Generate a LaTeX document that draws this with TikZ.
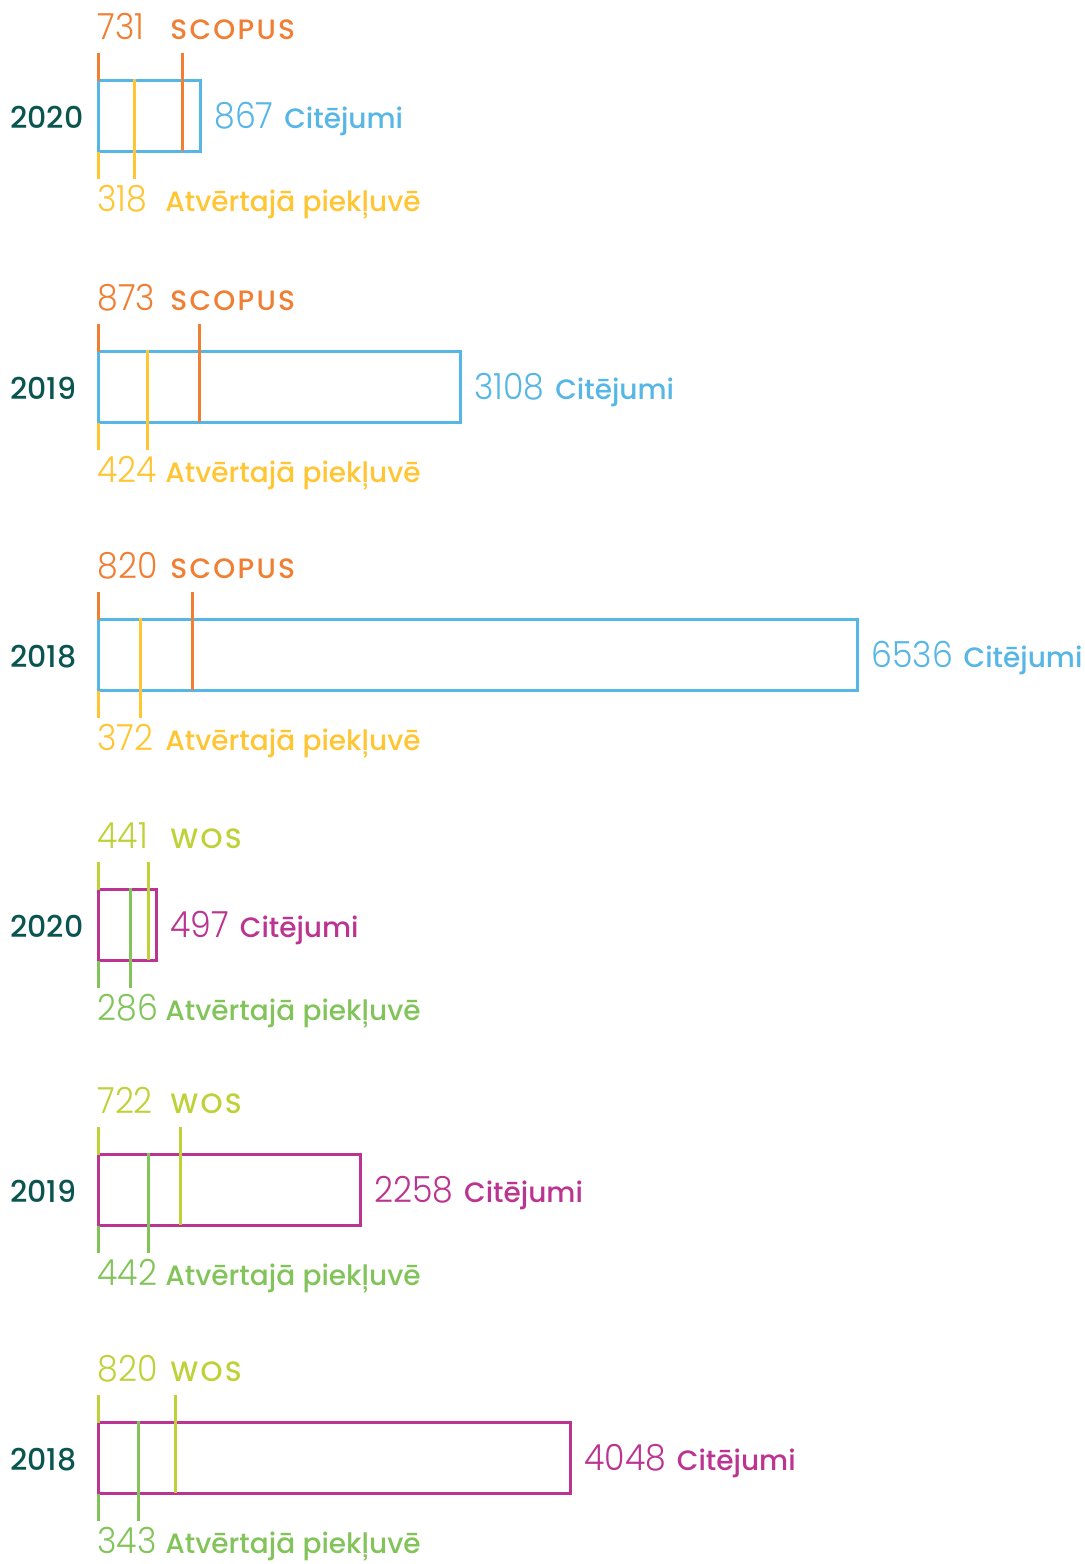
\documentclass[tikz,border=0pt]{standalone}
\usepackage{fontspec}
\setmainfont{Poppins}
\newfontfamily\numfont{Poppins Light}[FakeStretch=0.92]
\newfontfamily\lblfont{Poppins Medium}
\newfontfamily\srcfont{Poppins Medium}[LetterSpace=8]
\usetikzlibrary{positioning}

\definecolor{topS}{HTML}{F07E33}
\definecolor{boxS}{HTML}{56B6E6}
\definecolor{botS}{HTML}{FFC532}
\definecolor{topW}{HTML}{BED237}
\definecolor{boxW}{HTML}{BB3491}
\definecolor{botW}{HTML}{82C45A}
\definecolor{yeargreen}{HTML}{0B5550}

\begin{document}
\begin{tikzpicture}[
        x=0.5pt, y=-0.5pt,
        tick/.style={line width=1.5pt},
        bar/.style={line width=1.6pt},
        num/.style={inner sep=0pt, anchor=base west, font=\numfont\fontsize{18}{20}\selectfont},
        lbl/.style={inner sep=0pt, anchor=base west, font=\lblfont\fontsize{14}{16}\selectfont},
        src/.style={inner sep=0pt, anchor=base west, font=\srcfont\fontsize{14}{16}\selectfont},
        year/.style={inner sep=0pt, anchor=base west, text=yeargreen, font=\lblfont\fontsize{15}{17}\selectfont},
    ]
    \useasboundingbox (0,0) rectangle (1084,1564);

    % one block per year: box top, box right, top line, bottom line, values
    \foreach \n/\y/\r/\a/\b/\top/\bot/\cit/\year/\k/\src in {
            1/79/202/182/134/731/318/867/2020/S/SCOPUS,
            2/350/462/199/147/873/424/3108/2019/S/SCOPUS,
            3/618/859/192/140/820/372/6536/2018/S/SCOPUS,
            4/888/158/148/130/441/286/497/2020/W/WOS,
            5/1153/362/180/148/722/442/2258/2019/W/WOS,
            6/1421/572/175/138/820/343/4048/2018/W/WOS}
    {
        % bar
        \coordinate (nw-\n) at (98.5,\y+1.5);
        \coordinate (se-\n) at (\r-1.5,\y+72.5);
        \draw[bar, draw=box\k] (nw-\n) rectangle (se-\n);

        % ticks above the bar
        \coordinate (lt-\n) at (98.5,\y-26);
        \coordinate (at-\n) at (\a,\y-26);
        \coordinate (ab-\n) at (\a,\y+72);
        \draw[tick, draw=top\k] (lt-\n) -- (nw-\n);
        \draw[tick, draw=top\k] (at-\n) -- (ab-\n);

        % ticks below the bar
        \coordinate (bt-\n) at (\b,\y);
        \coordinate (bb-\n) at (\b,\y+100);
        \coordinate (lb-\n) at (98.5,\y+72.5);
        \coordinate (le-\n) at (98.5,\y+100);
        \draw[tick, draw=bot\k] (bt-\n) -- (bb-\n);
        \draw[tick, draw=bot\k] (lb-\n) -- (le-\n);

        % labels
        \node[year] (yr-\n) at (10,\y+49) {\year};
        \node[num, text=top\k] (tn-\n) at (97,\y-40) {\top};
        \node[src, text=top\k] (ts-\n) at (170,\y-40) {\src};
        \node[num, text=box\k] (cn-\n) at (\r+12,\y+49) {\cit};
        \node[lbl, text=box\k, base right=5pt of cn-\n] (cs-\n) {Citējumi};
        \node[num, text=bot\k] (bn-\n) at (97,\y+132) {\bot};
        \node[lbl, text=bot\k] (bs-\n) at (165,\y+132) {Atvērtajā piekļuvē};
    }
\end{tikzpicture}
\end{document}
